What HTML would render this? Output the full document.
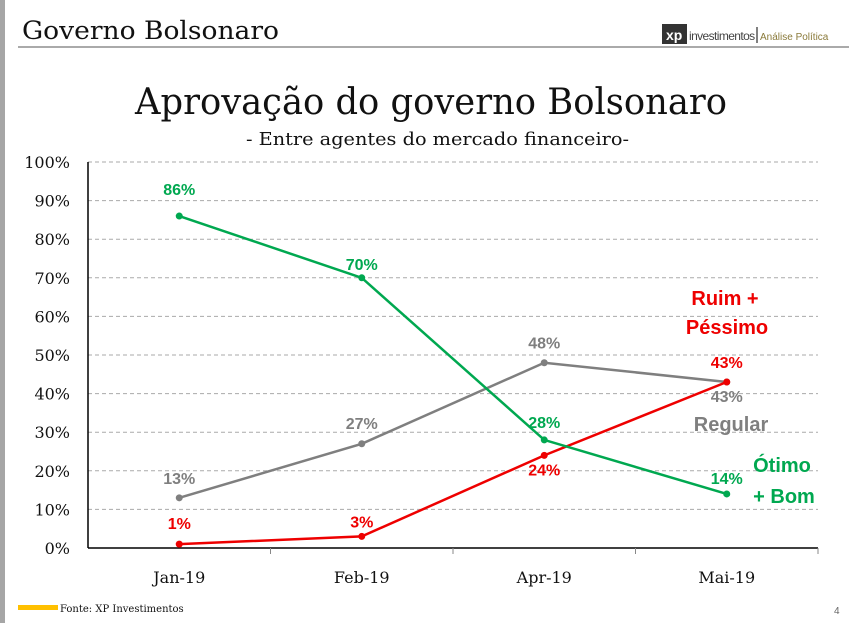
<!DOCTYPE html>
<html><head><meta charset="utf-8"><style>
body{margin:0;width:855px;height:623px;background:#fff;overflow:hidden;font-family:"DejaVu Serif",serif;}
</style></head><body>
<svg width="855" height="623" viewBox="0 0 855 623" xmlns="http://www.w3.org/2000/svg" font-family="DejaVu Serif,serif">
<rect x="0" y="0" width="5" height="623" fill="#a6a6a6"/>
<text x="22" y="39" font-size="25" fill="#111" textLength="257" lengthAdjust="spacingAndGlyphs">Governo Bolsonaro</text>
<line x1="18" y1="47" x2="849" y2="47" stroke="#777" stroke-width="1.2"/>
<rect x="662" y="24" width="25" height="20" fill="#333"/>
<text x="666" y="40" font-size="14" font-weight="bold" fill="#fff" font-family="Liberation Sans,sans-serif">xp</text>
<text x="689" y="40" font-size="12" fill="#444" font-family="Liberation Sans,sans-serif" letter-spacing="-0.6">investimentos</text>
<line x1="757" y1="27" x2="757" y2="43" stroke="#000"/>
<text x="760" y="40" font-size="10" fill="#8a7a3a" font-family="Liberation Sans,sans-serif">Análise Política</text>
<text x="135" y="114" font-size="36" fill="#111" textLength="592" lengthAdjust="spacingAndGlyphs">Aprovação do governo Bolsonaro</text>
<text x="246" y="145" font-size="18" fill="#111" textLength="383" lengthAdjust="spacingAndGlyphs">- Entre agentes do mercado financeiro-</text>
<g id="chart"></g>
<rect x="18" y="605" width="40" height="5" fill="#ffc000"/>
<text x="60" y="612" font-size="10" fill="#111">Fonte: XP Investimentos</text>
<text x="834" y="614" font-size="10" fill="#666" font-family="Liberation Sans,sans-serif">4</text>
</svg>
<script>
const categories=["Jan-19","Feb-19","Apr-19","Mai-19"];
const otimoBom=[86,70,28,14];
const regular=[13,27,48,43];
const ruimPessimo=[1,3,24,43];
const yTicks=[0,10,20,30,40,50,60,70,80,90,100];
const NS="http://www.w3.org/2000/svg";
const g=document.getElementById('chart');
const X0=88,X1=818,Y0=548,Y1=162;
const band=(X1-X0)/categories.length;
const xs=i=>X0+band*(i+0.5);
const ys=v=>Y0-(v/100)*(Y0-Y1);
function mk(t,a,txt){const e=document.createElementNS(NS,t);for(const k in a)e.setAttribute(k,a[k]);if(txt!==undefined)e.textContent=txt;g.appendChild(e);return e;}
yTicks.forEach(v=>{
  if(v>0){const l=mk('line',{x1:X0,x2:X1,y1:ys(v),y2:ys(v),stroke:'#aaa','stroke-dasharray':'4,3'});
  
  }
  const t=mk('text',{x:70,y:ys(v)+6,'font-size':16,'text-anchor':'end',fill:'#111'},v+'%');
  
  
});
const ax=mk('line',{x1:X0,x2:X0,y1:Y1,y2:Y0,stroke:'#000','stroke-width':1.5});


const bx=mk('line',{x1:X0,x2:X1,y1:Y0,y2:Y0,stroke:'#000','stroke-width':1.5});


categories.forEach((c,i)=>{
  const tk=mk('line',{x1:X0+band*(i+1),x2:X0+band*(i+1),y1:Y0,y2:Y0+6,stroke:'#888'});
  
  
  const t=mk('text',{x:xs(i),y:583,'font-size':16,'text-anchor':'middle',fill:'#111'},c);
  
  
});
function series(vals,color,name,offs){
  const p=mk('polyline',{points:vals.map((v,i)=>xs(i)+','+ys(v)).join(' '),fill:'none',stroke:color,'stroke-width':2.5});
  
  
  vals.forEach((v,i)=>{
    const c=mk('circle',{cx:xs(i),cy:ys(v),r:3.5,fill:color});
    
    
    const t=mk('text',{x:xs(i),y:ys(v)+offs[i],'font-size':16,'font-weight':'bold','text-anchor':'middle',fill:color,'font-family':'Liberation Sans,sans-serif'},v+'%');
    
    
  });
}
series(regular,'#7f7f7f','regular',[-14,-15,-14,20]);
series(ruimPessimo,'#ee0000','ruim-pessimo',[-15,-9,20,-14]);
series(otimoBom,'#00a850','otimo-bom',[-21,-8,-12,-10]);
const lg=[['Ruim +',725,305,'#ee0000'],['Péssimo',727,334,'#ee0000'],['Regular',731,431,'#7f7f7f'],['Ótimo',782,472,'#00a850'],['+ Bom',784,503,'#00a850']];
lg.forEach(l=>{const t=mk('text',{x:l[1],y:l[2],'font-size':20,'font-weight':'bold','text-anchor':'middle',fill:l[3],'font-family':'Liberation Sans,sans-serif'},l[0]);

});
</script>
</body></html>
